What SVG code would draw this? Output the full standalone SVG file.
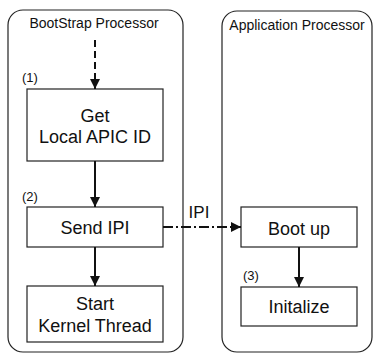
<svg xmlns="http://www.w3.org/2000/svg" width="373" height="354" viewBox="0 0 373 354">
<defs>
<style>
.cont{fill:#fff;stroke:#222;stroke-width:1.2}
.box{fill:#fff;stroke:#222;stroke-width:1.2}
.t{font-family:"Liberation Sans",Arial,sans-serif;fill:#111;text-anchor:middle}
.bt{font-size:18px}
.lab{font-size:14px}
.ipi{font-size:17px}
.num{font-family:"Liberation Sans",Arial,sans-serif;font-size:13px;fill:#111}
.arr{stroke:#111;stroke-width:2;fill:none}
</style>
<marker id="ah" viewBox="0 0 10 10" refX="10" refY="5" markerWidth="5" markerHeight="5" orient="auto" markerUnits="strokeWidth">
<path d="M0,0 L10,5 L0,10 z" fill="#111"/>
</marker>
</defs>
<rect width="373" height="354" fill="#fff"/>
<g id="bsp">
<rect class="cont" x="8" y="10" width="175" height="342" rx="15"/>
<text class="t lab" x="94" y="28">BootStrap Processor</text>
</g>
<g id="ap">
<rect class="cont" x="222" y="11" width="150" height="341" rx="15"/>
<text class="t lab" x="297" y="30">Application Processor</text>
</g>
<g id="n1">
<rect class="box" x="27" y="89" width="136" height="72"/>
<text class="num" x="22" y="82">(1)</text>
<text class="t bt" x="95" y="122">Get</text>
<text class="t bt" x="95" y="143">Local APIC ID</text>
</g>
<g id="n2">
<rect class="box" x="27" y="207" width="136" height="40"/>
<text class="num" x="22" y="201">(2)</text>
<text class="t bt" x="95" y="234">Send IPI</text>
</g>
<g id="n3">
<rect class="box" x="27" y="286" width="136" height="56"/>
<text class="t bt" x="95" y="310">Start</text>
<text class="t bt" x="95" y="332">Kernel Thread</text>
</g>
<g id="n4">
<rect class="box" x="241" y="207" width="116" height="40"/>
<text class="t bt" x="299" y="235">Boot up</text>
</g>
<g id="n5">
<rect class="box" x="241" y="287" width="116" height="39"/>
<text class="num" x="243" y="280">(3)</text>
<text class="t bt" x="299" y="313">Initalize</text>
</g>
<g id="connectors">
<line class="arr" x1="95" y1="40" x2="95" y2="89" stroke-dasharray="7,4" marker-end="url(#ah)"/>
<line class="arr" x1="95" y1="161" x2="95" y2="207" marker-end="url(#ah)"/>
<line class="arr" x1="95" y1="247" x2="95" y2="286" marker-end="url(#ah)"/>
<line class="arr" x1="163" y1="227" x2="241" y2="227" stroke-dasharray="10,3,2,3" marker-end="url(#ah)"/>
<text class="t ipi" x="199" y="218">IPI</text>
<line class="arr" x1="299" y1="247" x2="299" y2="287" marker-end="url(#ah)"/>
</g>
</svg>
